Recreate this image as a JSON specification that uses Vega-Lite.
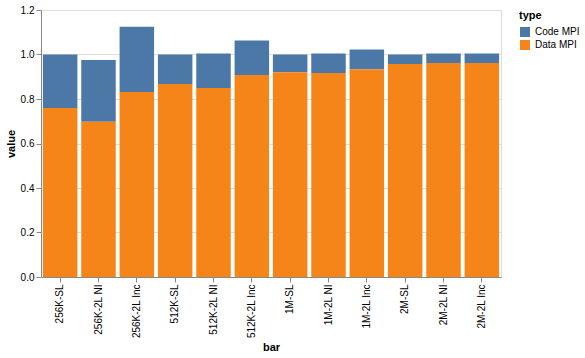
{
  "$schema": "https://vega.github.io/schema/vega-lite/v6.json",
  "width": 585,
  "height": 358,
  "autosize": {"type": "fit", "contains": "padding"},
  "data": {
    "values": [
      {"bar": "256K-SL", "type": "Code MPI", "value": 0.24},
      {"bar": "256K-SL", "type": "Data MPI", "value": 0.76},
      {"bar": "256K-2L NI", "type": "Code MPI", "value": 0.277},
      {"bar": "256K-2L NI", "type": "Data MPI", "value": 0.698},
      {"bar": "256K-2L Inc", "type": "Code MPI", "value": 0.293},
      {"bar": "256K-2L Inc", "type": "Data MPI", "value": 0.832},
      {"bar": "512K-SL", "type": "Code MPI", "value": 0.133},
      {"bar": "512K-SL", "type": "Data MPI", "value": 0.867},
      {"bar": "512K-2L NI", "type": "Code MPI", "value": 0.155},
      {"bar": "512K-2L NI", "type": "Data MPI", "value": 0.85},
      {"bar": "512K-2L Inc", "type": "Code MPI", "value": 0.155},
      {"bar": "512K-2L Inc", "type": "Data MPI", "value": 0.908},
      {"bar": "1M-SL", "type": "Code MPI", "value": 0.08},
      {"bar": "1M-SL", "type": "Data MPI", "value": 0.92},
      {"bar": "1M-2L NI", "type": "Code MPI", "value": 0.088},
      {"bar": "1M-2L NI", "type": "Data MPI", "value": 0.917},
      {"bar": "1M-2L Inc", "type": "Code MPI", "value": 0.088},
      {"bar": "1M-2L Inc", "type": "Data MPI", "value": 0.934},
      {"bar": "2M-SL", "type": "Code MPI", "value": 0.043},
      {"bar": "2M-SL", "type": "Data MPI", "value": 0.957},
      {"bar": "2M-2L NI", "type": "Code MPI", "value": 0.043},
      {"bar": "2M-2L NI", "type": "Data MPI", "value": 0.962},
      {"bar": "2M-2L Inc", "type": "Code MPI", "value": 0.043},
      {"bar": "2M-2L Inc", "type": "Data MPI", "value": 0.962}
    ]
  },
  "mark": {"type": "bar"},
  "encoding": {
    "x": {"field": "bar", "type": "nominal", "sort": null},
    "y": {"field": "value", "type": "quantitative"},
    "color": {"field": "type", "type": "nominal"}
  }
}
